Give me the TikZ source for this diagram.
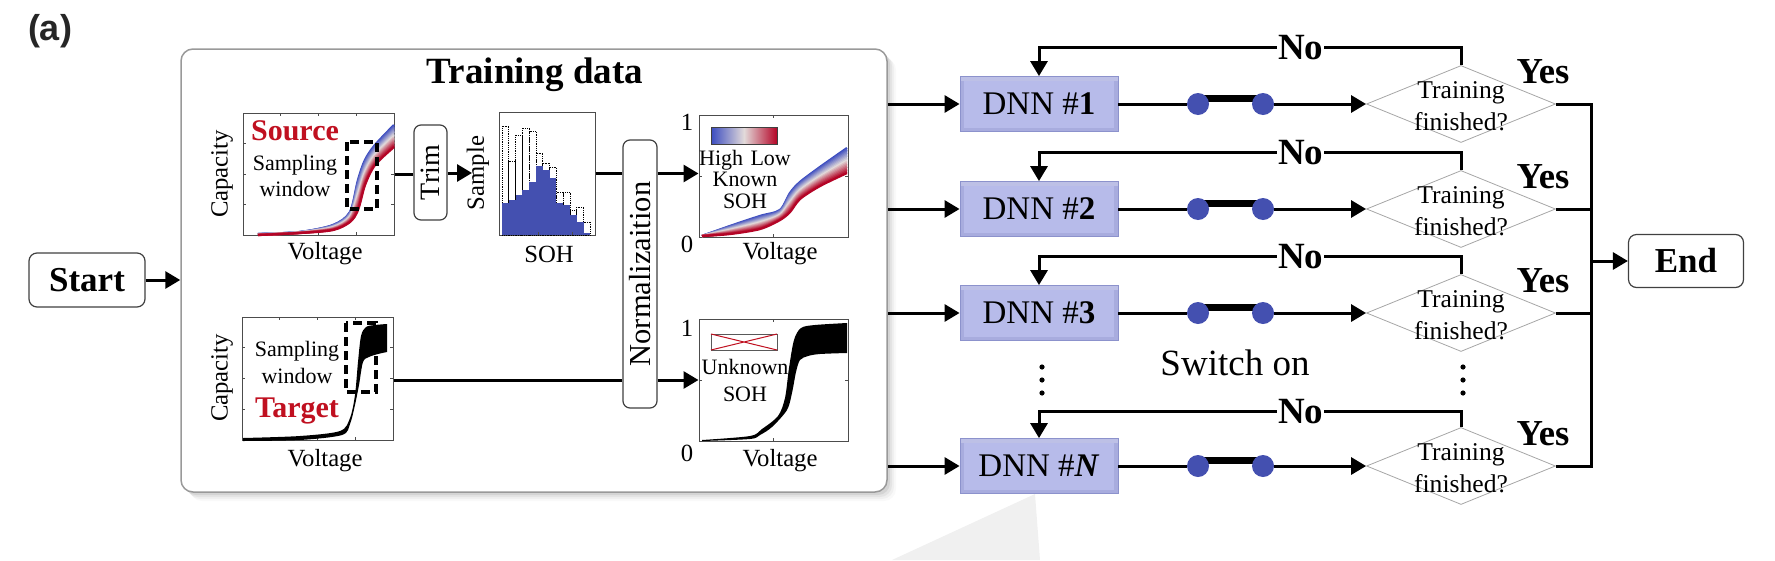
\documentclass[tikz,border=0pt]{standalone}
\usepackage{fontspec}
\setmainfont{Liberation Serif}
\newfontfamily\arialfont{Liberation Sans}
\usepackage{graphicx}
\usetikzlibrary{arrows.meta,shapes.geometric,calc}
\definecolor{cred}{RGB}{180,4,38}
\definecolor{cblue}{RGB}{59,76,192}
\definecolor{cmid}{RGB}{226,218,218}
\definecolor{srcred}{RGB}{192,16,32}
\definecolor{dotblue}{RGB}{68,80,176}
\definecolor{dnnfill}{RGB}{168,172,222}
\definecolor{dnnin}{RGB}{183,187,234}
\definecolor{dnnedge}{RGB}{140,146,204}
\tikzset{
 conn/.style={line width=3pt, line join=miter},
 arr/.style={conn, -{Triangle[length=15pt,width=17pt]}},
 termbox/.style={draw=black!75, line width=1.2pt, rounded corners=8pt, fill=white, inner sep=0pt, font=\bfseries\fontsize{35}{40}\selectfont},
 labbox/.style={draw=black!75, line width=1.2pt, rounded corners=7pt, fill=white, inner sep=0pt},
 trainbox/.style={draw=black!40, line width=1.5pt, rounded corners=12pt, fill=white, minimum width=706pt, minimum height=443pt, inner sep=0pt},
 axbox/.style={draw=black!70, line width=1pt, inner sep=0pt},
 axc/.style={draw=black!70, line width=0.8pt},
 axlbl/.style={font=\fontsize{24.7}{28}\selectfont, inner sep=0pt},
 smalltxt/.style={font=\fontsize{22}{27}\selectfont, align=center, inner sep=0pt},
 redlbl/.style={font=\bfseries\fontsize{30}{34}\selectfont, text=srcred, inner sep=0pt},
 dnnbox/.style={rectangle, fill=dnnfill, draw=dnnedge, line width=0.8pt, minimum width=158pt, minimum height=55pt, inner sep=0pt, font=\fontsize{33}{38}\selectfont,
   path picture={\fill[dnnin] ([shift={(4pt,-4pt)}]path picture bounding box.north west) rectangle ([shift={(-4pt,4pt)}]path picture bounding box.south east);
                 \fill[white,opacity=0.25] (path picture bounding box.north west) rectangle ([shift={(0pt,-4pt)}]path picture bounding box.north east);}},
 swdot/.style={circle, fill=dotblue, minimum size=22pt, inner sep=0pt},
 dia/.style={diamond, draw=black!35, line width=0.8pt, minimum width=189pt, minimum height=77pt, inner sep=0pt},
 diatext/.style={font=\fontsize{25.6}{32}\selectfont, align=center, inner sep=0pt},
 nolbl/.style={font=\bfseries\fontsize{37}{40}\selectfont, fill=white, inner sep=1pt},
 yeslbl/.style={font=\bfseries\fontsize{36.6}{40}\selectfont, inner sep=0pt},
 wdash/.style={line width=3.2pt, dash pattern=on 9pt off 5pt},
}
\begin{document}
\begin{tikzpicture}[x=1pt,y=-1pt]
\useasboundingbox (0,0) rectangle (1775,560);
% faint wedge
\fill[black!6] (1035,494) -- (1040,560) -- (892,560) -- cycle;
% label
\node[font=\arialfont\bfseries\fontsize{36}{40}\selectfont, text=black!85, inner sep=0pt] (lbla) at (50,31) {(a)};
% training box with shadow
\foreach \s/\o in {9/0.025,7/0.035,5/0.05,3/0.07}{
  \fill[black, opacity=\o, rounded corners=12pt] (181+\s,49+\s) rectangle (887+\s,492+\s);}
\node[trainbox] (train) at (534,270.5) {};
\node[font=\bfseries\fontsize{37}{42}\selectfont, inner sep=0pt] (title) at (535,75) {Training data};
% start
\node[termbox, minimum width=116pt, minimum height=54pt] (start) at (87,280) {Start};
\draw[arr] (start.east) -- (start.east -| train.west);

% ---------- source plot
\node[axbox, minimum width=151pt, minimum height=122pt] (srcax) at (318.5,174) {};
\foreach \f in {0.25,0.5,0.75}{
  \draw[axc] ({243+151*\f},235) -- ++(0,-3) ({243+151*\f},113) -- ++(0,3) (243,{113+122*\f}) -- ++(3,0) (394,{113+122*\f}) -- ++(-3,0);}
\foreach \i in {16,15,...,0}{
  \pgfmathsetmacro{\t}{\i/16}
  \ifnum\i<8 \pgfmathtruncatemacro{\pp}{100-100*\i/8}\colorlet{bandc}{cred!\pp!cmid}
  \else \pgfmathtruncatemacro{\pp}{100*(\i-8)/8}\colorlet{bandc}{cblue!\pp!cmid}\fi
  \draw[bandc, line width=2.3pt] plot[smooth, tension=0.5] coordinates {
    (258,{235-\t*1}) (300,{233-\t*1}) (333,{230-\t*5}) (350,{222-\t*10}) (358,{210-\t*30})
    (365,{185-\t*25}) (375,{165-\t*20}) (394,{147-\t*22})};
}
\draw[wdash] (347,142) rectangle (377,209);
\node[redlbl] (srclbl) at (295,131) {Source};
\node[smalltxt, text width=100pt] (srcwin) at (295,176) {Sampling\\[-1pt]window};
\node[axlbl] (srccap) at (222,174) {\rotatebox{90}{Capacity}};
\node[axlbl] (srcvolt) at (325,254) {Voltage};

% trim
\node[labbox, minimum width=33pt, minimum height=95pt, font=\fontsize{28}{30}\selectfont] (trim) at (430.5,172.5) {\rotatebox{90}{Trim}};
\draw[conn] (srcax.east) -- (srcax.east -| trim.west);
\coordinate (histin) at (472,173);
\draw[arr] (histin -| trim.east) -- (histin);

% ---------- histogram
\node[axbox, minimum width=96pt, minimum height=123pt] (histax) at (547,173.5) {};
\foreach \b/\d [count=\k from 0] in {203/126,200/161,195/135,190/128,182/131,166/153,170/163,178/167,203/192,205/192,215/210,222/207,233/222}{
  \draw[densely dotted, line width=0.8pt] ({502+6.8*\k},235) rectangle ({502+6.8*(\k+1)},\d);
}
\foreach \b/\d [count=\k from 0] in {203/126,200/161,195/135,190/128,182/131,166/153,170/163,178/167,203/192,205/192,215/210,222/207,233/222}{
  \fill[dotblue] ({502+6.8*\k},235) rectangle ({502+6.8*(\k+1)},\b);
}
\draw[axc] (538,235) -- ++(0,-3) (572,235) -- ++(0,-3);
\node[axlbl] (histsample) at (478,173) {\rotatebox{90}{Sample}};
\node[axlbl] (histsoh) at (549,254) {SOH};

% ---------- normalization
\node[labbox, minimum width=34pt, minimum height=268pt, font=\fontsize{30.5}{32}\selectfont] (normbox) at (640,274) {\rotatebox{90}{Normalizaition}};
\draw[conn] (histax.east) -- (histax.east -| normbox.west);

% ---------- normalized plot 1
\node[axbox, minimum width=149pt, minimum height=122pt] (n1ax) at (773.5,176) {};
\draw[axc] (773.5,237) -- ++(0,-3) (773.5,115) -- ++(0,3) (699,176) -- ++(3,0) (848,176) -- ++(-3,0);
\foreach \i in {16,15,...,0}{
  \pgfmathsetmacro{\t}{\i/16}
  \ifnum\i<8 \pgfmathtruncatemacro{\pp}{100-100*\i/8}\colorlet{bandc}{cred!\pp!cmid}
  \else \pgfmathtruncatemacro{\pp}{100*(\i-8)/8}\colorlet{bandc}{cblue!\pp!cmid}\fi
  \draw[bandc, line width=2.3pt] plot[smooth, tension=0.5] coordinates {
    (702,{236-\t*0}) (730,{234-\t*8}) (760,{229-\t*13}) (780,{220-\t*10}) (790,{212-\t*19})
    (800,{199-\t*17}) (820,{186-\t*19}) (847,{173-\t*25})};
}
\draw[arr] (histax.east -| normbox.east) -- (histax.east -| n1ax.west);
\shade[left color=cblue, right color=cred, middle color=cmid] (711,127) rectangle (777,144);
\draw[black!75, line width=1pt] (711,127) rectangle (777,144);
\node[smalltxt, text width=100pt] (n1txt) at (745,179) {High Low\\[-6pt]Known\\[-5pt]SOH};
\node[axlbl] (n1one) at (687,122) {1};
\node[axlbl] (n1zero) at (687,244) {0};
\node[axlbl] (n1volt) at (780,254) {Voltage};

% ---------- target plot
\node[axbox, minimum width=151pt, minimum height=123pt] (tgtax) at (317.5,378.5) {};
\foreach \f in {0.25,0.5,0.75}{
  \draw[axc] ({242+151*\f},440) -- ++(0,-3) ({242+151*\f},317) -- ++(0,3) (242,{317+123*\f}) -- ++(3,0) (393,{317+123*\f}) -- ++(-3,0);}
\fill[black] plot[smooth, tension=0.5] coordinates {(243,438) (300,436) (340,431) (350,418) (355,395) (358,362) (361,336) (366,327) (375,325) (387,324)}
  -- plot[smooth, tension=0.5] coordinates {(387,352) (378,354) (369,357) (363,362) (359,385) (355,405) (350,424) (342,435) (300,440) (243,441)} -- cycle;
\draw[wdash] (346,323) rectangle (376,392);
\node[smalltxt, text width=100pt] (tgtwin) at (297,362) {Sampling\\[0pt]window};
\node[redlbl] (tgtlbl) at (297,411) {Target};
\node[axlbl] (tgtcap) at (222,378) {\rotatebox{90}{Capacity}};
\node[axlbl] (tgtvolt) at (325,461) {Voltage};

% ---------- normalized plot 2
\node[axbox, minimum width=149pt, minimum height=122pt] (n2ax) at (773.5,380) {};
\draw[axc] (773.5,441) -- ++(0,-3) (773.5,319) -- ++(0,3) (699,380) -- ++(3,0) (848,380) -- ++(-3,0);
\fill[black] plot[smooth, tension=0.5] coordinates {(702,440) (750,436) (762,429) (778,416) (785,398) (789,368) (794,340) (801,328) (815,325) (847,323)}
  -- plot[smooth, tension=0.5] coordinates {(847,353) (820,354) (808,356) (800,360) (796,372) (792,393) (787,410) (772,427) (760,435) (750,439) (702,441)} -- cycle;
\draw[conn] (n2ax.west -| tgtax.east) -- (n2ax.west -| normbox.west);
\draw[arr] (n2ax.west -| normbox.east) -- (n2ax.west);
\draw[black!65, line width=1pt] (711,334) rectangle (777,350);
\draw[srcred, line width=1pt] (711,334) -- (777,350) (711,350) -- (777,334);
\node[smalltxt, text width=100pt] (n2txt) at (745,380) {Unknown\\[0pt]SOH};
\node[axlbl] (n2one) at (687,328) {1};
\node[axlbl] (n2zero) at (687,453) {0};
\node[axlbl] (n2volt) at (780,461) {Voltage};

% ---------- DNN rows
\foreach \r/\y/\lab/\nd in {1/104/1/29, 2/209/2/29, 3/313/3/29, N/466/\textit{N}/27}{
  \node[dnnbox] (dnn\r) at (1039,\y) {DNN \#\textbf{\lab}};
  \draw[arr] (dnn\r.west -| train.east) -- (dnn\r.west);
  \coordinate (ca\r) at (1198,\y);
  \coordinate (cb\r) at (1263,\y);
  \draw[line width=7pt] ([yshift=5.5pt]ca\r) -- ([yshift=5.5pt]cb\r);
  \node[swdot] (sa\r) at (ca\r) {};
  \node[swdot] (sb\r) at (cb\r) {};
  \draw[conn] (dnn\r.east) -- (sa\r);
  \node[dia] (d\r) at (1461,\y) {};
  \draw[arr] (sb\r) -- (d\r.west);
  \node[diatext] (dt\r) at (1461,\y+2) {Training\\finished?};
  \draw[arr] (d\r.north) |- node[nolbl, pos=0.69] {No} ([yshift=\nd pt]dnn\r.north) -- (dnn\r.north);
  \node[yeslbl] (yes\r) at (1543,\y-32) {Yes};
}
% bus and end
\coordinate (bus) at ([xshift=36pt]d1.east);
\draw[conn] (d1.east) -- (bus) |- (dN.east);
\draw[conn] (d2.east) -- (d2.east -| bus);
\draw[conn] (d3.east) -- (d3.east -| bus);
\node[termbox, minimum width=115pt, minimum height=53pt] (end) at (1686,261) {End};
\draw[arr] (end.west -| bus) -- (end.west);
% ellipsis dots
\foreach \yy in {367,380,393}{
  \fill (1042,\yy) circle (2.6pt);
  \fill (1463,\yy) circle (2.6pt);
}
\node[font=\fontsize{37}{40}\selectfont, inner sep=0pt] (swon) at (1235,363) {Switch on};
\end{tikzpicture}
\end{document}
